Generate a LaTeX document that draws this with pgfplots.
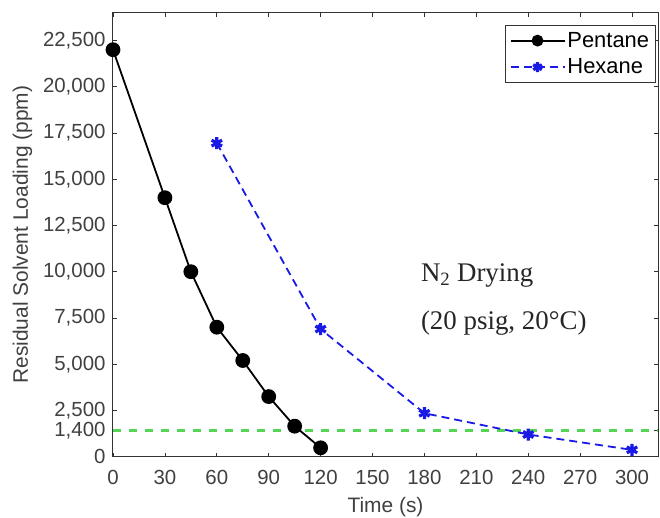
\documentclass[border=0pt]{standalone}
\usepackage{fontspec}
\setmainfont{Liberation Sans}
\newfontfamily\timesfont{Liberation Serif}
\usepackage{pgfplots}
\pgfplotsset{compat=1.18}
\usetikzlibrary{calc}
\definecolor{axgray}{HTML}{333333}
\definecolor{limgreen}{HTML}{55D455}
\definecolor{hexblue}{HTML}{1A1AE6}
\begin{document}
\begin{tikzpicture}
\begin{axis}[
  scale only axis, width=545bp, height=444bp,
  xmin=0, xmax=315, ymin=0, ymax=24000,
  xtick={0,30,...,300},
  ytick={0,1400,2500,5000,7500,10000,12500,15000,17500,20000,22500},
  tick align=inside, major tick length=4bp,
  axis line style={axgray, line width=1bp},
  tick style={axgray, line width=0.8bp},
  /pgf/number format/.cd, 1000 sep={,}, assume math mode=true,
  /pgfplots/.cd,
  scaled y ticks=false,
  tick label style={font=\fontsize{20.5}{22}\selectfont, text=black!75},
  xticklabel style={yshift=-10bp},
  yticklabel style={xshift=-4bp},
  label style={font=\fontsize{21}{23}\selectfont, text=black!75},
  xlabel={Time (s)}, ylabel={Residual Solvent Loading (ppm)},
  xlabel style={yshift=-6bp}, ylabel style={yshift=4bp},
  legend style={at={(rel axis cs:0.995,0.972)}, anchor=north east,
    font=\fontsize{22}{24}\selectfont, draw=axgray,
    inner xsep=4bp, inner ysep=5bp, row sep=6bp,
    /tikz/every even column/.append style={column sep=2bp}},
  legend cell align=left,
  legend image code/.code={\draw[mark repeat=2,mark phase=2,mark size=5bp,#1] plot coordinates {(0bp,0bp)(27bp,0bp)(54bp,0bp)};},
]
\addplot[limgreen, line width=2.8bp, dash pattern=on 8bp off 8bp, forget plot] coordinates {(0,1400) (315,1400)};
\addplot[black, line width=1.8bp, mark=*, mark size=6.5bp, mark options={solid, fill=black}] coordinates {
  (0,22000) (30,14000) (45,10000) (60,7000) (75,5200) (90,3250) (105,1650) (120,480)};
\addlegendentry{Pentane}
\addplot[hexblue, line width=1.8bp, dash pattern=on 8bp off 5bp, mark=asterisk, mark size=6bp, mark options={solid, line width=3.2bp}] coordinates {
  (60,16950) (120,6900) (180,2350) (240,1200) (300,370)};
\addlegendentry{Hexane}
\node[anchor=west, align=left, font=\timesfont\fontsize{27}{48}\selectfont, text=black!85] at (axis cs:176,8500) {N\textsubscript{2} Drying\\(20 psig, 20\textdegree C)};
\end{axis}
\pgfresetboundingbox
\path[use as bounding box] ($(current axis.south west)+(-113bp,-61.3bp)$) rectangle ($(current axis.north east)+(2bp,12.7bp)$);
\end{tikzpicture}
\end{document}
